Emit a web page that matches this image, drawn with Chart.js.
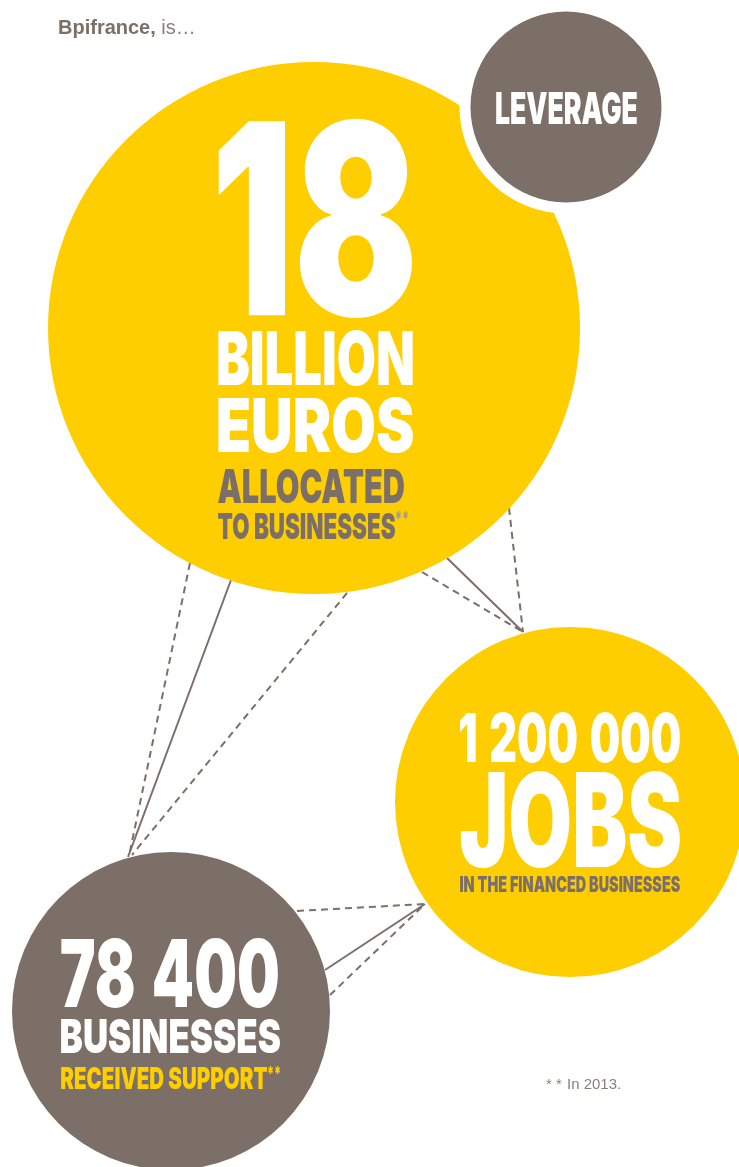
<!DOCTYPE html>
<html lang="en">
<head>
    <meta charset="UTF-8">
    <title>Bpifrance, is... [chart]</title>
    <style>
        html, body { margin: 0; padding: 0; background: #fff; }
        .chart-box { width: 739px; height: 1167px; position: relative; overflow: hidden; }
    </style>
</head>
<body>
    <div class="chart-box">
        <canvas id="chartdiv" width="739" height="1167"></canvas>
    </div>
    <script src="https://cdn.jsdelivr.net/npm/chart.js"></script>
    <script>
    // circles (x, y in axis units, r = bubble radius)
    var circleNames = ['18 BILLION EUROS', 'LEVERAGE', '1 200 000 JOBS', '78 400 BUSINESSES'];
    var circleX = [314, 566, 570, 171];
    var circleY = [328, 107, 802, 1011];
    var circleR = [266, 101, 175, 159];

    // connecting links
    var linkFrom = [[190, 563], [231, 580], [347, 593], [422, 572], [447, 558], [509, 508], [297, 911], [325, 970], [330, 995]];
    var linkTo = [[129, 856], [128, 857], [132, 855], [523, 632], [523, 632], [523, 632], [424, 904], [425, 904], [425, 904]];
    var linkDashed = [true, false, true, true, false, true, true, false, true];

    // headline figures
    var figures = ['18', '1 200 000', '78 400'];
    var units = ['BILLION', 'EUROS', 'JOBS', 'BUSINESSES'];

    var YELLOW = '#FECE00';
    var BROWN = '#7C6F67';
    var HEAVY = '900 100px Inter, Roboto, sans-serif';

    // text boxes: l/r = ink left/right, t/b = ink top/bottom
    var textLayout = [
        { t: figures[0], l: 218, r: 413, top: 118, b: 318, c: '#fff' },
        { t: units[0], l: 218, r: 413, top: 330, b: 386, c: '#fff' },
        { t: units[1], l: 218, r: 413, top: 397, b: 453, c: '#fff' },
        { t: 'ALLOCATED', l: 218, r: 404, top: 468, b: 503, c: BROWN },
        { t: 'TO BUSINESSES', l: 218, r: 395, top: 512, b: 539, c: BROWN },
        { t: '**', l: 396, r: 408, top: 512, b: 520, c: '#a39a92' },
        { t: 'LEVERAGE', l: 496, r: 637, top: 91, b: 124, c: '#fff' },
        { t: figures[1], l: 460, r: 680, top: 713, b: 763, c: '#fff', wide: true },
        { t: units[2], l: 460, r: 680, top: 770, b: 868, c: '#fff' },
        { t: 'IN THE FINANCED BUSINESSES', l: 460, r: 680, top: 876, b: 892, c: BROWN },
        { t: figures[2], l: 61, r: 278, top: 938, b: 1008, c: '#fff', wide: true },
        { t: units[3], l: 61, r: 280, top: 1018, b: 1053, c: '#fff' },
        { t: 'RECEIVED SUPPORT', l: 61, r: 267, top: 1067, b: 1089, c: YELLOW },
        { t: '**', l: 268, r: 280, top: 1067, b: 1075, c: YELLOW }
    ];

    document.addEventListener("DOMContentLoaded", () => {

        // squeeze a string into its box (condensed look)
        function fitText(ctx, xs, ys, item) {
            ctx.save();
            ctx.font = item.font || HEAVY;
            var text = item.wide ? item.t.replace(/ /g, ' \u200A') : item.t;
            var m = ctx.measureText(text);
            var inkW = m.actualBoundingBoxLeft + m.actualBoundingBoxRight;
            var inkH = m.actualBoundingBoxAscent + m.actualBoundingBoxDescent;
            var left = xs.getPixelForValue(item.l), right = xs.getPixelForValue(item.r);
            var top = ys.getPixelForValue(item.top), bottom = ys.getPixelForValue(item.b);
            var sx = (right - left) / inkW;
            var sy = (bottom - top) / inkH;
            ctx.translate(left + m.actualBoundingBoxLeft * sx, top + m.actualBoundingBoxAscent * sy);
            ctx.scale(sx, sy);
            ctx.fillStyle = item.c;
            ctx.textBaseline = 'alphabetic';
            ctx.fillText(text, 0, 0);
            ctx.restore();
        }

        var textPlugin = {
            id: 'circleText',
            afterDatasetsDraw: function (chart) {
                var ctx = chart.ctx, xs = chart.scales.x, ys = chart.scales.y;
                textLayout.forEach(function (item) { fitText(ctx, xs, ys, item); });

                // header
                ctx.save();
                ctx.textBaseline = 'alphabetic';
                ctx.font = 'bold 20px "Liberation Sans", Arial, sans-serif';
                ctx.fillStyle = BROWN;
                var hx = xs.getPixelForValue(58), hy = ys.getPixelForValue(34);
                ctx.fillText('Bpifrance,', hx, hy);
                var w = ctx.measureText('Bpifrance,').width;
                ctx.font = '20px "Liberation Sans", Arial, sans-serif';
                ctx.fillStyle = '#8a7f78';
                ctx.fillText(' is\u2026', hx + w, hy);

                // footnote
                ctx.font = '15px "Liberation Sans", Arial, sans-serif';
                ctx.fillStyle = '#8a7f78';
                ctx.fillText('* *', xs.getPixelForValue(546), ys.getPixelForValue(1089));
                ctx.fillText('In 2013.', xs.getPixelForValue(567), ys.getPixelForValue(1089));
                ctx.restore();
            }
        };

        function createChart(ctx) {
            var circleSet = {
                type: 'bubble',
                label: 'circles',
                order: 0,
                data: circleNames.map(function (name, i) {
                    return { x: circleX[i], y: circleY[i], r: circleR[i] };
                }),
                backgroundColor: [YELLOW, BROWN, YELLOW, BROWN],
                borderColor: ['#fff', '#fff', '#fff', '#fff'],
                borderWidth: [0, 11, 0, 0],
                hoverRadius: 0,
                clip: false
            };

            var linkSets = linkFrom.map(function (p, i) {
                return {
                    type: 'line',
                    label: 'link ' + (i + 1),
                    order: 1,
                    data: [{ x: p[0], y: p[1] }, { x: linkTo[i][0], y: linkTo[i][1] }],
                    borderColor: BROWN,
                    borderWidth: 2,
                    borderDash: linkDashed[i] ? [7, 5] : [],
                    pointRadius: 0,
                    fill: false
                };
            });

            return new Chart(ctx, {
                type: 'bubble',
                data: { datasets: [circleSet].concat(linkSets) },
                options: {
                    responsive: false,
                    animation: false,
                    events: [],
                    layout: { padding: 0, autoPadding: false },
                    scales: {
                        x: { type: 'linear', min: 0, max: 739, display: false },
                        y: { type: 'linear', min: 0, max: 1167, reverse: true, display: false }
                    },
                    plugins: {
                        legend: { display: false },
                        tooltip: { enabled: false }
                    }
                },
                plugins: [textPlugin]
            });
        }

        createChart(document.getElementById('chartdiv').getContext('2d'));
    });
    </script>
</body>
</html>
